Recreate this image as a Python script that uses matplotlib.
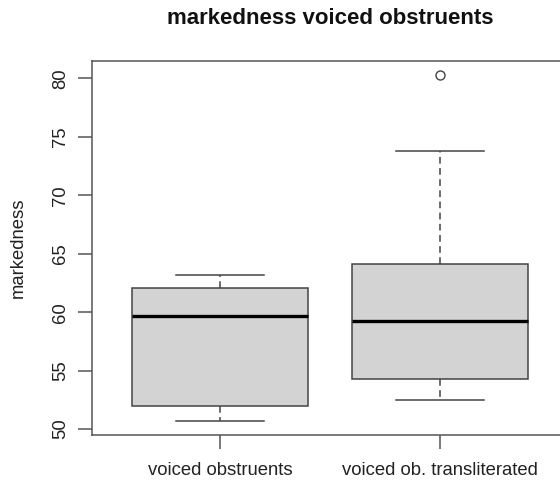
import matplotlib.pyplot as plt

plt.rcParams['font.family'] = ['Liberation Sans', 'DejaVu Sans']

# box statistics per group
groups = ["voiced obstruents", "voiced ob. transliterated"]
medians = [59.7, 59.2]
q1 = [52.0, 54.25]
q3 = [62.1, 64.1]
whislo = [50.65, 52.5]
whishi = [63.2, 73.75]
fliers = [[], [80.3]]

stats = []
for i in range(len(groups)):
    stats.append(dict(label=groups[i], med=medians[i], q1=q1[i], q3=q3[i],
                      whislo=whislo[i], whishi=whishi[i], fliers=fliers[i]))

# R style limits: 0.5..n+0.5 and data range, each widened by 4%
xlo, xhi = 0.5, len(groups) + 0.5
xpad = (xhi - xlo) * 0.04
allv = whislo + whishi + [v for f in fliers for v in f]
ylo, yhi = min(allv), max(allv)
ypad = (yhi - ylo) * 0.04

W, H = 560, 482
fig = plt.figure(figsize=(W / 100, H / 100), dpi=100)
ax = fig.add_axes([92.4 / W, 1 - 435.3 / H, 475.2 / W, 374.3 / H])

lc = '#444444'
ax.bxp(stats, positions=[1, 2], widths=0.8, capwidths=0.4, patch_artist=True,
       boxprops=dict(facecolor='#d3d3d3', edgecolor=lc, linewidth=1.1),
       medianprops=dict(color='black', linewidth=2.4),
       whiskerprops=dict(color=lc, linewidth=1.1, linestyle=(0, (4.4, 2.9))),
       capprops=dict(color=lc, linewidth=1.1),
       flierprops=dict(marker='o', markerfacecolor='none', markeredgecolor=lc,
                       markersize=6.5, markeredgewidth=1))

ax.set_xlim(xlo - xpad, xhi + xpad)
ax.set_ylim(ylo - ypad, yhi + ypad)
ax.set_yticks([50, 55, 60, 65, 70, 75, 80])
ax.set_xticks([1, 2])
ax.set_xticklabels(groups)
for s in ax.spines.values():
    s.set_color('#555555')
    s.set_linewidth(1.1)
ax.tick_params(colors='#555555', labelcolor='#222222', length=10, width=1.1,
               labelsize=13.3, pad=7)
ax.tick_params(axis='x', pad=9)
for lab in ax.get_yticklabels():
    lab.set_rotation(90)
    lab.set_va('center')

ax.set_ylabel('markedness', fontsize=13.3, color='#222222', labelpad=18)
fig.text(330 / W, 1 - 18 / H, 'markedness voiced obstruents', ha='center',
         va='center', fontsize=16, fontweight='bold', color='#111111')

fig.savefig('out.png', dpi=100)
